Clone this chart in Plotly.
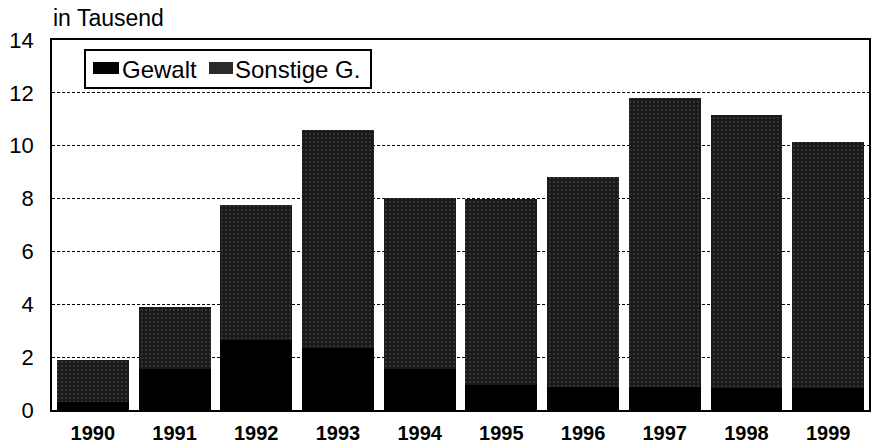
import plotly.graph_objects as go

years = ["1990", "1991", "1992", "1993", "1994", "1995", "1996", "1997", "1998", "1999"]
totals = [1.9, 3.9, 7.75, 10.6, 8.03, 8.0, 8.83, 11.82, 11.15, 10.15]
gewalt = [0.3, 1.55, 2.65, 2.35, 1.55, 0.95, 0.87, 0.87, 0.83, 0.85]
sonstige = [round(t - g, 2) for t, g in zip(totals, gewalt)]
y_ticks = [0, 2, 4, 6, 8, 10, 12, 14]
series_names = ["Gewalt", "Sonstige G."]
series_colors = ["#000000", "#1a1a1a"]

FONT = "Liberation Sans, Arial, sans-serif"
W, H = 871, 443
ML, MR, MT, MB = 52, 2, 40, 33
PW, PH = W - ML - MR, H - MT - MB


def px(x):
    return (x - ML) / PW


def py(y):
    return (H - MB - y) / PH


fig = go.Figure()
fig.add_trace(go.Bar(
    x=years, y=gewalt, name=series_names[0], showlegend=False,
    marker=dict(color=series_colors[0], line=dict(width=0)),
))
fig.add_trace(go.Bar(
    x=years, y=sonstige, name=series_names[1], showlegend=False,
    marker=dict(color=series_colors[1], line=dict(width=0),
                pattern=dict(shape=".", fgcolor="#999999", bgcolor=series_colors[1],
                             size=4, solidity=0.12)),
))

# custom legend (box, swatches, labels)
shapes = [
    dict(type="rect", xref="paper", yref="paper", x0=px(85), x1=px(371), y0=py(88), y1=py(50),
         line=dict(color="black", width=2), fillcolor="white", layer="above"),
    dict(type="rect", xref="paper", yref="paper", x0=px(93), x1=px(119), y0=py(74), y1=py(62),
         line=dict(width=0), fillcolor=series_colors[0], layer="above"),
    dict(type="rect", xref="paper", yref="paper", x0=px(209), x1=px(233), y0=py(74), y1=py(62),
         line=dict(width=0), fillcolor="#2a2a2a", layer="above"),
]
annotations = [
    dict(text=series_names[0], xref="paper", yref="paper", x=px(120), y=py(69),
         xanchor="left", yanchor="middle", showarrow=False, font=dict(size=24)),
    dict(text=series_names[1], xref="paper", yref="paper", x=px(233), y=py(69),
         xanchor="left", yanchor="middle", showarrow=False, font=dict(size=24)),
    dict(text="in Tausend", xref="paper", yref="paper", x=px(51), y=py(18),
         xanchor="left", yanchor="middle", showarrow=False, font=dict(size=23)),
]

fig.update_layout(
    barmode="stack",
    bargap=0.12,
    width=W, height=H,
    margin=dict(l=ML, r=MR, t=MT, b=MB),
    plot_bgcolor="white", paper_bgcolor="white",
    font=dict(family=FONT, color="black"),
    showlegend=False,
    xaxis=dict(
        showgrid=False, showline=True, linecolor="black", linewidth=1.5,
        mirror=True, ticks="", automargin=False,
        tickfont=dict(size=20, family=FONT, weight="bold"),
        ticklabelstandoff=4,
    ),
    yaxis=dict(
        range=[0, 14], tickvals=y_ticks, showgrid=True, gridcolor="black",
        griddash="3px,2px", gridwidth=1, showline=True, linecolor="black",
        linewidth=1.5, mirror=True, ticks="", tickfont=dict(size=22),
        ticklabelstandoff=12, zeroline=False, automargin=False,
    ),
    shapes=shapes,
    annotations=annotations,
)

fig.write_html("out.html", config={"displayModeBar": False},
               post_script="document.body.style.margin='0px';")
